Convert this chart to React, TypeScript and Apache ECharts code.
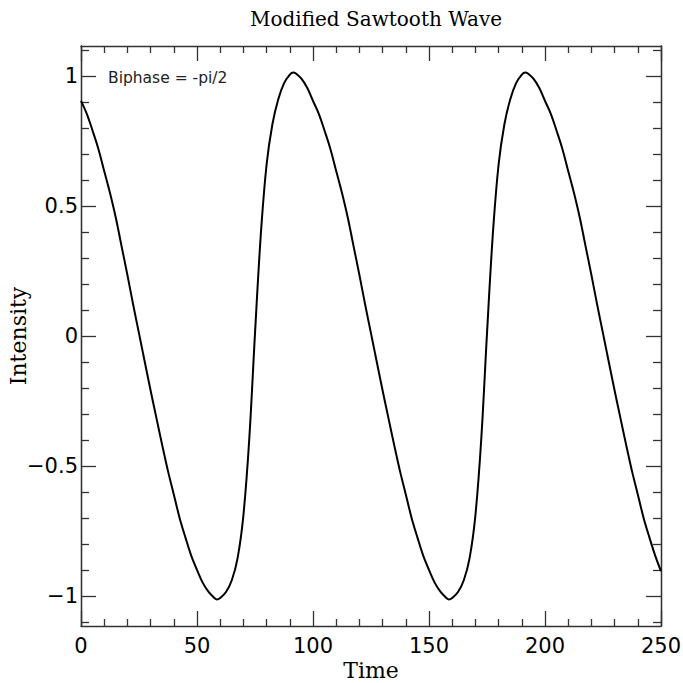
import React, { useEffect, useRef } from "react";
import * as echarts from "echarts";

const titleText = "Modified Sawtooth Wave";
const annotation = "Biphase = -pi/2";
const xName = "Time";
const yName = "Intensity";

const time = [
  0, 2.5, 5, 7.5, 10, 12.5, 15, 17.5, 20, 22.5, 25, 27.5, 30, 32.5, 35, 37.5, 40, 42.5, 45, 47.5,
  50, 52.5, 55, 57.5, 58.5, 60, 62.5, 65, 67.5, 70, 72.5, 75, 77.5, 80, 82.5, 85, 87.5, 90, 91.5, 92.5, 95, 97.5,
  100, 102.5, 105, 107.5, 110, 112.5, 115, 117.5, 120, 122.5, 125, 127.5, 130, 132.5, 135, 137.5, 140, 142.5, 145, 147.5,
  150, 152.5, 155, 157.5, 158.5, 160, 162.5, 165, 167.5, 170, 172.5, 175, 177.5, 180, 182.5, 185, 187.5, 190, 191.5, 192.5, 195, 197.5,
  200, 202.5, 205, 207.5, 210, 212.5, 215, 217.5, 220, 222.5, 225, 227.5, 230, 232.5, 235, 237.5, 240, 242.5, 245, 247.5,
  250,
];

const intensity = [
  0.905, 0.855, 0.79, 0.72, 0.635, 0.55, 0.455, 0.345, 0.235, 0.12, 0.01, -0.1, -0.21, -0.315, -0.42, -0.52, -0.61, -0.7, -0.775, -0.845,
  -0.9, -0.95, -0.985, -1.008, -1.014, -1.008, -0.985, -0.94, -0.855, -0.69, -0.4, 0.01, 0.39, 0.66, 0.815, 0.91, 0.972, 1.006, 1.014, 1.011, 0.99, 0.955,
  0.905, 0.855, 0.79, 0.72, 0.635, 0.55, 0.455, 0.345, 0.235, 0.12, 0.01, -0.1, -0.21, -0.315, -0.42, -0.52, -0.61, -0.7, -0.775, -0.845,
  -0.9, -0.95, -0.985, -1.008, -1.014, -1.008, -0.985, -0.94, -0.855, -0.69, -0.4, 0.01, 0.39, 0.66, 0.815, 0.91, 0.972, 1.006, 1.014, 1.011, 0.99, 0.955,
  0.905, 0.855, 0.79, 0.72, 0.635, 0.55, 0.455, 0.345, 0.235, 0.12, 0.01, -0.1, -0.21, -0.315, -0.42, -0.52, -0.61, -0.7, -0.775, -0.845,
  -0.905,
];

const xTickInterval = 50;
const yMajorTicks = [-1, -0.5, 0, 0.5, 1];
const yMinorTicks = [
  -1.1, -0.9, -0.8, -0.7, -0.6, -0.4, -0.3, -0.2, -0.1, 0.1, 0.2, 0.3, 0.4, 0.6, 0.7, 0.8, 0.9, 1.1,
];
const xRange = [0, 250];
const yRange = [-1.116, 1.116];

const axisColor = "#333";
const labelFont = "DejaVu Sans";
const nameFont = "DejaVu Serif";

function fmtNum(v: number) {
  return String(v).replace("-", "\u2212");
}

export default function App() {
  const ref = useRef<HTMLDivElement>(null);
  useEffect(() => {
    if (!ref.current) return;
    const chart = echarts.init(ref.current, null, { renderer: "svg" });
    const lineStyle = { color: axisColor, width: 1.3 };

    const yBase = (position: string, ticks: number[], len: number, labels: boolean) => ({
      type: "value",
      min: yRange[0],
      max: yRange[1],
      position,
      offset: 0,
      axisLine: { show: true, onZero: false, lineStyle },
      axisTick: { show: true, inside: true, length: len, customValues: ticks, lineStyle },
      axisLabel: labels
        ? {
            show: true,
            customValues: yMajorTicks,
            formatter: (v: number) => fmtNum(v),
            fontFamily: labelFont,
            fontSize: 21,
            color: "#000",
            margin: 3,
          }
        : { show: false },
      splitLine: { show: false },
    });

    const xBase = (position: string, labels: boolean) => ({
      type: "value",
      min: xRange[0],
      max: xRange[1],
      interval: xTickInterval,
      position,
      axisLine: { show: true, onZero: false, lineStyle },
      axisTick: { show: true, inside: true, length: 15, lineStyle },
      minorTick: { show: true, splitNumber: 5, length: 7, lineStyle },
      axisLabel: labels
        ? { show: true, fontFamily: labelFont, fontSize: 21, color: "#000", margin: 9 }
        : { show: false },
      splitLine: { show: false },
      minorSplitLine: { show: false },
    });

    const yLeftMajor: any = yBase("left", yMajorTicks, 15, true);
    yLeftMajor.name = yName;
    yLeftMajor.nameLocation = "middle";
    yLeftMajor.nameGap = 52;
    yLeftMajor.nameMoveOverlap = false;
    yLeftMajor.nameRotate = 90;
    yLeftMajor.nameTextStyle = { fontFamily: nameFont, fontSize: 22, color: "#000" };

    const xBottom: any = xBase("bottom", true);
    xBottom.name = xName;
    xBottom.nameLocation = "middle";
    xBottom.nameGap = 33;
    xBottom.nameMoveOverlap = false;
    xBottom.nameTextStyle = { fontFamily: nameFont, fontSize: 22, color: "#000" };

    chart.setOption({
      animation: false,
      backgroundColor: "#fff",
      title: [
        {
          text: titleText,
          left: 371,
          textAlign: "center",
          top: 4,
          textStyle: { fontFamily: nameFont, fontSize: 20, fontWeight: "normal", color: "#000" },
        },
        {
          text: annotation,
          left: 103,
          top: 65,
          textStyle: { fontFamily: labelFont, fontSize: 15.5, fontWeight: "normal", color: "#222" },
        },
      ],
      grid: { left: 81, right: 22, top: 46, bottom: 57, outerBoundsMode: "none", containLabel: false },
      xAxis: [xBottom, xBase("top", false)],
      yAxis: [
        yLeftMajor,
        yBase("left", yMinorTicks, 8, false),
        yBase("right", yMajorTicks, 15, false),
        yBase("right", yMinorTicks, 8, false),
      ],
      series: [
        {
          type: "line",
          xAxisIndex: 0,
          yAxisIndex: 0,
          data: time.map((t, i) => [t, intensity[i]]),
          showSymbol: false,
          smooth: 0.35,
          lineStyle: { color: "#000", width: 2 },
        },
      ],
    });
    return () => chart.dispose();
  }, []);
  return (
    <div
      ref={ref}
      style={{ position: "fixed", left: 0, top: 0, width: 683, height: 683, background: "#fff" }}
    />
  );
}
